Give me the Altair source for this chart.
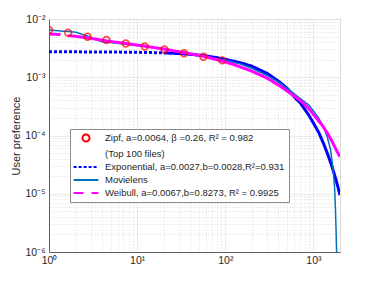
import altair as alt
import pandas as pd

# ---------------- data ----------------
L_ZIPF = "Zipf, a=0.0064, β =0.26, R² = 0.982"
L_TOP = "(Top 100 files)"
L_EXP = "Exponential, a=0.0027,b=0.0028,R²=0.931"
L_MOV = "Movielens"
L_WEI = "Weibull, a=0.0067,b=0.8273, R² = 0.9925"

zipf_x = [1, 1.65, 2.73, 4.48, 7.41, 12.2, 20.4, 34.1, 56.4, 92.5]
zipf_y = [6.45e-3, 5.8e-3, 4.95e-3, 4.35e-3, 3.8e-3, 3.38e-3, 3.0e-3, 2.58e-3, 2.25e-3, 1.95e-3]

exp_x = [1, 2, 3, 5, 8, 12, 20, 30, 40, 60, 80, 100, 150, 200, 300, 421, 500,
         624, 711, 885, 1007, 1150, 1300, 1432, 1603, 1800, 2000]
exp_y = [2.73e-3, 2.73e-3, 2.72e-3, 2.71e-3, 2.69e-3, 2.67e-3, 2.62e-3, 2.55e-3,
         2.48e-3, 2.33e-3, 2.17e-3, 2.03e-3, 1.77e-3, 1.55e-3, 1.16e-3, 8.1e-4,
         6.5e-4, 4.4e-4, 3.6e-4, 2.24e-4, 1.6e-4, 1.12e-4, 7.3e-5, 5.0e-5,
         3.1e-5, 1.75e-5, 9.5e-6]
exp_dotted_until = 20

mov_x = [1, 2, 3, 4, 5, 7, 10, 15, 20, 35, 60, 100, 150, 200, 300, 421, 547,
         624, 711, 885, 1007, 1150, 1310, 1432, 1560, 1675, 1740, 1780, 1810,
         1830, 1860]
mov_y = [6.47e-3, 5.95e-3, 4.85e-3, 4.05e-3, 3.95e-3, 3.72e-3, 3.5e-3, 3.25e-3,
         3.07e-3, 2.65e-3, 2.25e-3, 1.97e-3, 1.68e-3, 1.42e-3, 1.06e-3, 7.9e-4,
         5.9e-4, 5.0e-4, 4.3e-4, 3.33e-4, 2.6e-4, 1.97e-4, 1.35e-4, 9.5e-5,
         5.8e-5, 2.55e-5, 1.2e-5, 5e-6, 2e-6, 1e-6, 3e-7]

wei_x = [1, 1.35, 1.65, 2, 3, 4.5, 7, 12, 20, 35, 60, 90, 125, 200, 300, 421,
         547, 624, 750, 885, 1000, 1256, 1450, 1633, 1800, 2000]
wei_y = [5.52e-3, 5.4e-3, 5.17e-3, 5.05e-3, 4.65e-3, 4.2e-3, 3.85e-3, 3.43e-3,
         3.05e-3, 2.63e-3, 2.25e-3, 1.92e-3, 1.65e-3, 1.27e-3, 9.6e-4, 7.0e-4,
         5.3e-4, 4.6e-4, 3.7e-4, 2.9e-4, 2.3e-4, 1.5e-4, 1.08e-4, 7.8e-5,
         5.8e-5, 4.3e-5]
wei_first_dash_end = 1.35

x_ticks = [m * 10 ** k for k in range(0, 3) for m in range(1, 10)] + [1000, 2000]
y_ticks = [m * 10.0 ** k for k in range(-6, -2) for m in range(1, 10)] + [1e-2]

# ---------------- tables ----------------
rows = []
for x, y in zip(exp_x, exp_y):
    if x <= exp_dotted_until:
        rows.append(dict(x=x, y=y, series=L_EXP, part="e1", style="dot", w=3))
    if x >= exp_dotted_until:
        rows.append(dict(x=x, y=y, series=L_EXP, part="e2", style="solid", w=3))
for x, y in zip(mov_x, mov_y):
    rows.append(dict(x=x, y=y, series=L_MOV, part="m", style="solid", w=1.5))
for x, y in zip(wei_x, wei_y):
    part = "w1" if x <= wei_first_dash_end else "w2"
    rows.append(dict(x=x, y=y, series=L_WEI, part=part, style="solid", w=3))
lines = pd.DataFrame(rows)
zipf = pd.DataFrame({"x": zipf_x, "y": zipf_y})

FONT = "Liberation Sans"
TXT = "#262626"
DEC = "abs(log(datum.value)/LN10 - round(log(datum.value)/LN10)) < 0.001"

grid_dash = {"condition": {"test": DEC, "value": [1, 0]}, "value": [1, 2]}
grid_color = {"condition": {"test": DEC, "value": "#dedede"}, "value": "#cfcfcf"}

xaxis = alt.Axis(
    values=x_ticks, title=None, grid=True, gridDash=grid_dash, gridColor=grid_color,
    gridWidth=0.7, ticks=False, domainColor="#404040", domainWidth=0.8,
    labelExpr=DEC + " ? '10' + ['⁰','¹','²','³'][round(log(datum.value)/LN10)] : ''",
    labelFont=FONT, labelFontSize=10.5, labelColor=TXT, labelPadding=3,
    labelOverlap=False, labelFlush=False,
)
yaxis = alt.Axis(
    values=y_ticks, title="User preference", grid=True, gridDash=grid_dash,
    gridColor=grid_color, gridWidth=0.7, ticks=False, domainColor="#404040",
    domainWidth=0.8,
    labelExpr=DEC + " ? '10⁻' + ['⁰','¹','²','³','⁴','⁵','⁶'][-round(log(datum.value)/LN10)] : ''",
    labelFont=FONT, labelFontSize=10.5, labelColor=TXT, labelPadding=4,
    labelOverlap=False, labelFlush=False,
    titleFont=FONT, titleFontSize=11, titleFontWeight="normal", titleColor=TXT,
    titlePadding=3,
)

xs = alt.Scale(type="log", domain=[1, 2000], nice=False)
ys = alt.Scale(type="log", domain=[1e-6, 1e-2], nice=False)

circle_path = "M-0.875,0A0.875,0.875,0,1,1,0.875,0A0.875,0.875,0,1,1,-0.875,0Z"
line_path = "M-3.1,0L3.1,0"

legend = alt.Legend(
    title=None, orient="none", legendX=21, legendY=110,
    symbolType={"expr": f"indexof(datum.value,'Zipf')==0 ? '{circle_path}' : '{line_path}'"},
    symbolDash={"expr": "indexof(datum.value,'Exponential')==0 ? [3,2] : "
                        "indexof(datum.value,'Weibull')==0 ? [10,8] : [1,0]"},
    symbolSize=64, symbolStrokeWidth=2, symbolFillColor="transparent",
    symbolOffset=7, labelOffset=14,
    labelFont=FONT, labelFontSize=9.5, labelColor=TXT, labelLimit=400,
    rowPadding=3, padding=4, fillColor="white", strokeColor="#8c8c8c",
    cornerRadius=0,
)

color = alt.Color(
    "series:N",
    scale=alt.Scale(domain=[L_ZIPF, L_TOP, L_EXP, L_MOV, L_WEI],
                    range=["#ff0000", "transparent", "#0000ff", "#0072bd", "#ff00ff"]),
    legend=legend,
)

line_layer = alt.Chart(lines).mark_line(clip=True).encode(
    x=alt.X("x:Q", scale=xs, axis=xaxis),
    y=alt.Y("y:Q", scale=ys, axis=yaxis),
    color=color,
    strokeDash=alt.StrokeDash("style:N", scale=alt.Scale(domain=["solid", "dot"],
                              range=[[1, 0], [3, 2]]), legend=None),
    strokeWidth=alt.StrokeWidth("w:Q", scale=None, legend=None),
    detail="part:N",
)

zipf_layer = alt.Chart(zipf).mark_point(
    shape="circle", filled=False, color="#ff0000", size=45, strokeWidth=1.7, clip=True
).encode(x=alt.X("x:Q", scale=xs), y=alt.Y("y:Q", scale=ys))

chart = (
    alt.layer(line_layer, zipf_layer)
    .properties(width=291, height=233,
                autosize=alt.AutoSizeParams(type="none"),
                padding={"left": 41, "top": 11, "right": 20, "bottom": 25})
    .configure_view(stroke="#404040", strokeWidth=0.8)
    .configure(background="white")
)

chart.save("out.html", embed_options={"renderer": "svg", "actions": False})
